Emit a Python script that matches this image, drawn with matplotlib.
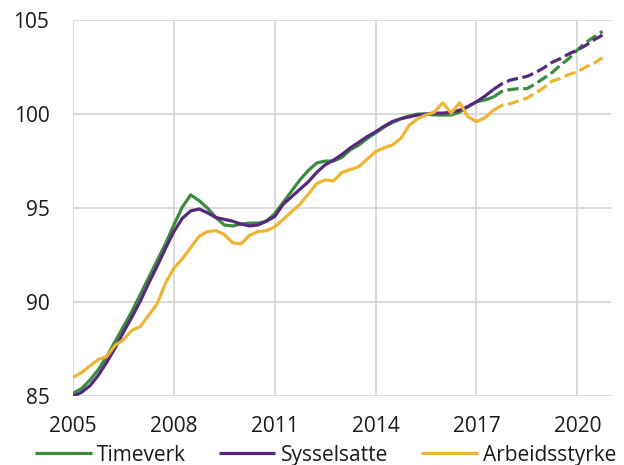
import matplotlib.pyplot as plt
import numpy as np

# quarterly index, 2005Q1 - 2020Q4 (2015 = 100)
start_year = 2005
n_hist = 51  # 2005Q1 .. 2017Q3 actual, rest projection

timeverk = [85.15, 85.4, 85.85, 86.4, 87.1, 87.9, 88.7, 89.5, 90.4, 91.3,
            92.2, 93.1, 94.1, 95.05, 95.7, 95.4, 95.0, 94.5, 94.1, 94.05,
            94.15, 94.2, 94.2, 94.3, 94.7, 95.3, 95.9, 96.5, 97.0, 97.4,
            97.5, 97.5, 97.7, 98.1, 98.35, 98.7, 99.0, 99.3, 99.55, 99.75,
            99.9, 100.0, 100.0, 99.95, 99.95, 99.95, 100.1, 100.4, 100.65, 100.75,
            100.9, 101.2, 101.3, 101.35, 101.35, 101.6, 101.9, 102.2, 102.6, 102.95,
            103.4, 103.8, 104.1, 104.4]

sysselsatte = [85.0, 85.2, 85.55, 86.1, 86.8, 87.55, 88.4, 89.2, 90.05, 91.0,
               91.9, 92.85, 93.75, 94.45, 94.85, 94.95, 94.75, 94.5, 94.4, 94.3,
               94.15, 94.05, 94.1, 94.3, 94.55, 95.2, 95.6, 96.0, 96.4, 96.9,
               97.3, 97.55, 97.85, 98.2, 98.5, 98.8, 99.05, 99.35, 99.6, 99.75,
               99.85, 99.95, 100.0, 100.05, 100.05, 100.1, 100.2, 100.4, 100.65, 100.95,
               101.3, 101.6, 101.8, 101.9, 102.0, 102.2, 102.45, 102.75, 102.95, 103.2,
               103.4, 103.65, 103.95, 104.2]

arbeidsstyrke = [86.0, 86.25, 86.6, 86.95, 87.1, 87.7, 88.0, 88.5, 88.7, 89.3,
                 89.9, 91.0, 91.8, 92.3, 92.9, 93.5, 93.75, 93.8, 93.6, 93.15,
                 93.1, 93.55, 93.75, 93.8, 94.0, 94.4, 94.8, 95.2, 95.75, 96.3,
                 96.5, 96.45, 96.9, 97.05, 97.2, 97.6, 98.0, 98.2, 98.35, 98.7,
                 99.4, 99.75, 99.95, 100.1, 100.6, 100.05, 100.6, 99.85, 99.6, 99.8,
                 100.2, 100.45, 100.55, 100.7, 100.85, 101.1, 101.4, 101.75, 101.9, 102.1,
                 102.25, 102.5, 102.7, 103.0]

labels = ['Timeverk', 'Sysselsatte', 'Arbeidsstyrke']
colors = ['#3b8c3e', '#56297f', '#edb533']
year_ticks = [2005, 2008, 2011, 2014, 2017, 2020]

plt.rcParams['font.family'] = ['Open Sans', 'DejaVu Sans']

x = start_year + np.arange(len(timeverk)) / 4

fig = plt.figure(figsize=(6.24, 4.65), dpi=100)
ax = fig.add_axes([0.117, 0.148, 0.862, 0.809])

for i, (series, name, c) in enumerate(zip([timeverk, sysselsatte, arbeidsstyrke], labels, colors)):
    y = np.array(series)
    ax.plot(x[:n_hist], y[:n_hist], color=c, lw=2.3, label=name, zorder=3 + i,
            solid_capstyle='butt', solid_joinstyle='round')
    ax.plot(x[n_hist - 1:], y[n_hist - 1:], color=c, lw=2.3, ls=(0, (3.6, 1.4)),
            zorder=3 + i, dash_capstyle='butt')

ax.set_xlim(2005, 2021)
ax.set_ylim(85, 105)
ax.set_xticks(year_ticks)
ax.set_yticks([85, 90, 95, 100, 105])
ax.grid(True, color='#d4d4d4', lw=1.2, zorder=0)
ax.set_axisbelow(True)
for s in ax.spines.values():
    s.set_visible(False)
ax.tick_params(axis='both', length=0, labelsize=15, colors='#1a1a1a')
ax.tick_params(axis='y', pad=17)
ax.tick_params(axis='x', pad=14)

fig.legend(loc='lower center', bbox_to_anchor=(0.522, -0.042), ncol=3, frameon=False,
           fontsize=15, handlelength=2.7, handletextpad=0.25, columnspacing=1.6,
           labelcolor='#1a1a1a')

fig.savefig('out.png', dpi=100)
